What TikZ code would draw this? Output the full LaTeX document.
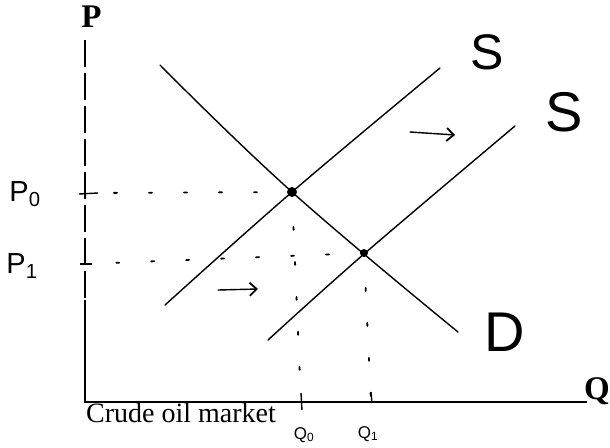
\documentclass[tikz,border=0pt]{standalone}
\usepackage{fontspec}
\setmainfont{Liberation Serif}
\newfontfamily\hand{Liberation Sans}
\usetikzlibrary{arrows.meta}
\begin{document}
\begin{tikzpicture}[x=1pt,y=-1pt,
  curve/.style={line width=1.4pt, line cap=round, line join=round},
  axisline/.style={line width=1.2pt},
  dotline/.style={line width=1.8pt, line cap=round, dash pattern=on 3pt off 32pt},
  tickmark/.style={line width=1.4pt},
  eqpt/.style={circle, fill=black, inner sep=0pt, minimum size=8pt},
  handlbl/.style={font=\hand\fontsize{#1}{#1}\selectfont, inner sep=0pt},
  shiftarrow/.style={line width=1.4pt, line cap=round, -{Straight Barb[length=7pt,width=13pt,line width=1.8pt]}}
]
\useasboundingbox (0,0) rectangle (610,447);
% axes
\coordinate (O) at (85,402);
\coordinate (ytop) at (85,40);
\coordinate (xend) at (587,402);
\draw[axisline, dash pattern=on 27pt off 6pt] (ytop) -- (85,300);
\draw[axisline] (85,300) -- (O) -- (xend);
\node[font=\bfseries\fontsize{33}{33}\selectfont, inner sep=0pt] (P) at (91.5,17) {P};
\node[font=\bfseries\fontsize{33}{33}\selectfont, inner sep=0pt] (Q) at (597,391) {Q};
\node[font=\fontsize{28}{28}\selectfont, inner sep=0pt, anchor=base west] (mkt) at (86,422) {Crude oil market};
% equilibria
\node[eqpt, minimum size=10pt] (E0) at (292,192) {};
\node[eqpt] (E1) at (364,253) {};
% axis points
\coordinate (p0) at (85,193);
\coordinate (p1) at (85,264);
\coordinate (q0) at (301,402);
\coordinate (q1) at (371,402);
% ticks
\draw[tickmark] (79,194) -- (98,193);
\draw[tickmark] (80,264) -- (92,264);
\draw[tickmark] (301,393) -- (302,410);
\draw[tickmark] (371,392) -- (372,403);
% dotted guide lines
\draw[dotline] (E0.center) -- (p0);
\draw[dotline] (E1.center) -- (p1);
\draw[dotline] (E0.center) -- (q0);
\draw[dotline] (E1.center) -- (q1);
% demand
\draw[curve] plot[smooth, tension=0.7] coordinates {(160,65) (292,192) (458,332)};
% supply curves
\draw[curve] plot[smooth, tension=0.6] coordinates {(165,305) (292,192) (440,68)};
\draw[curve] plot[smooth, tension=0.6] coordinates {(268,340) (364,254) (515,126)};
% shift arrows
\coordinate (a1s) at (218,290);
\coordinate (a1e) at (258,289);
\coordinate (a2s) at (410,132);
\coordinate (a2e) at (455,135);
\draw[shiftarrow] (a1s) -- (a1e);
\draw[shiftarrow] (a2s) -- (a2e);
% handwritten labels
\node[handlbl=50] (S1) at (487,52) {S};
\node[handlbl=56] (S2) at (564,112) {S};
\node[handlbl=56] (D) at (505,332) {D};
\node[handlbl=29] (P0) at (25,194) {P\textsubscript{0}};
\node[handlbl=29] (P1) at (22,266) {P\textsubscript{1}};
\node[handlbl=17] (Q0) at (304,435) {Q\textsubscript{0}};
\node[handlbl=17] (Q1) at (368,434) {Q\textsubscript{1}};
\end{tikzpicture}
\end{document}
